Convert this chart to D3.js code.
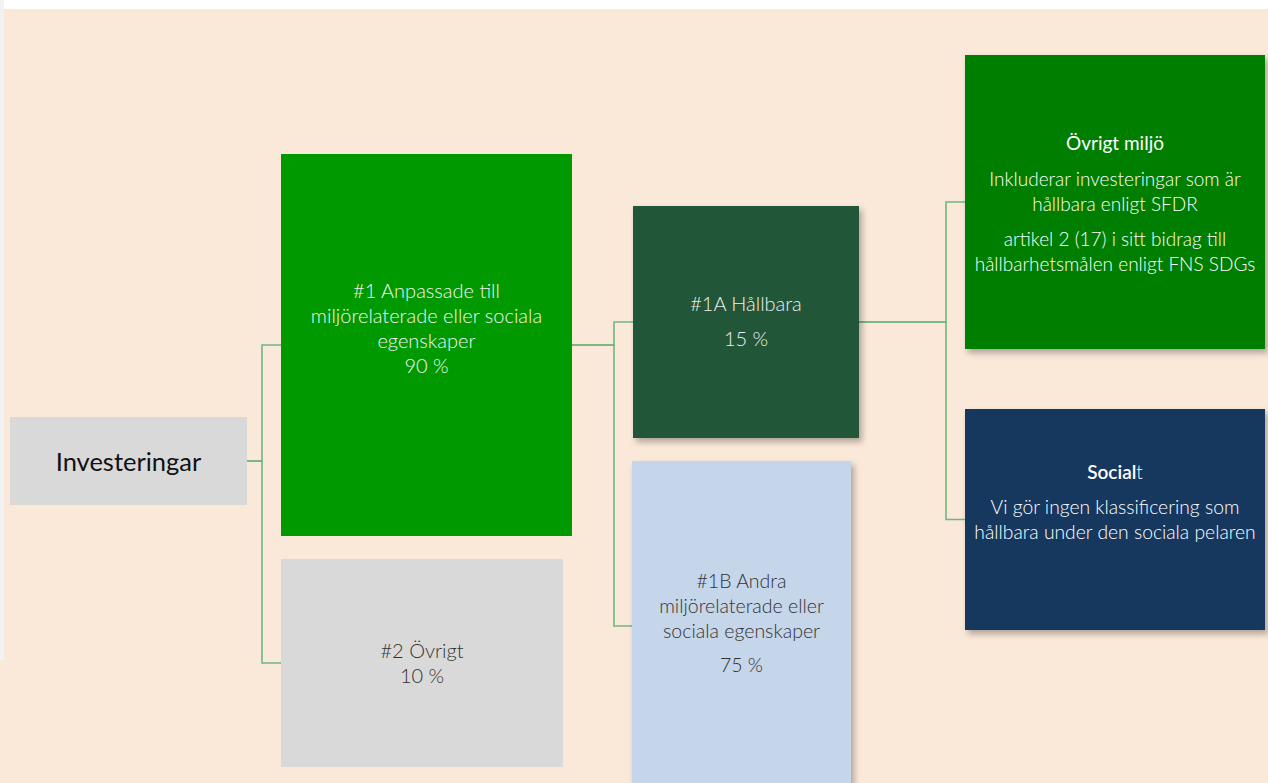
<!DOCTYPE html>
<html><head><meta charset="utf-8">
<script src="https://cdn.jsdelivr.net/npm/d3@7"></script>
<style>
html,body{margin:0;padding:0;background:#fff;}
svg{display:block;}
text{font-family:Lato,"Open Sans",sans-serif;}
</style></head>
<body><svg id="c" width="1268" height="783"></svg>
<script>
// ---- data ----
const nodeIds = ["inv","n1","n2","n1A","n1B","env","soc"];
const parents = [null,"inv","inv","n1","n1","n1A","n1A"];
const titles = [
  ["Investeringar"],
  ["#1 Anpassade till","miljörelaterade eller sociala","egenskaper"],
  ["#2 Övrigt"],
  ["#1A Hållbara"],
  ["#1B Andra","miljörelaterade eller","sociala egenskaper"],
  ["Övrigt miljö"],
  ["Socialt"]
];
const shares = [null, 90, 10, 15, 75, null, null];
const descriptions = [
  [],[],[],[],[],
  [["Inkluderar investeringar som är","hållbara enligt SFDR"],["artikel 2 (17) i sitt bidrag till","hållbarhetsmålen enligt FNS SDGs"]],
  [["Vi gör ingen klassificering som","hållbara under den sociala pelaren"]]
];

// ---- layout (positions / styles) ----
const layout = {
  inv: {x:10, y:417, w:237, h:88, fill:"#d9d9d9", color:"#111", size:25.5, tsize:25.5, weight:400, ty:[471], shadow:false},
  n1:  {x:281, y:154, w:291, h:382, fill:"#009900", color:"#f4f4f4", size:20, tsize:20, weight:300, ty:[298,323,348,373], shadow:false},
  n2:  {x:281, y:559, w:282, h:208, fill:"#d9d9d9", color:"#333", size:20, tsize:20, weight:300, ty:[658,683], shadow:false},
  n1A: {x:633, y:206, w:226, h:232, fill:"#245739", color:"#eee", size:20, tsize:20, weight:300, ty:[311,346], shadow:true},
  n1B: {x:632, y:461, w:219, h:330, fill:"#c5d5ea", color:"#333", size:19.5, tsize:19.5, weight:300, ty:[588,613,638,672], shadow:true},
  env: {x:965, y:55, w:300, h:294, fill:"#007e00", color:"#fff", size:19, tsize:19, weight:300, ty:[150,186,211,246,271], shadow:true},
  soc: {x:965, y:409, w:300, h:221, fill:"#17375e", color:"#fff", size:19.3, tsize:19, weight:300, ty:[479,514,539], shadow:true}
};
const elbowX = {inv:262, n1:614, n1A:946};

const svg = d3.select("#c");
const W = 1268, H = 783;
// background
svg.append("rect").attr("x",0).attr("y",0).attr("width",W).attr("height",H).attr("fill","#fae8d8");
svg.append("rect").attr("x",0).attr("y",0).attr("width",W).attr("height",9).attr("fill","#ffffff");
svg.append("rect").attr("x",0).attr("y",0).attr("width",4).attr("height",660).attr("fill","#f2f2f2");

const defs = svg.append("defs");
const f = defs.append("filter").attr("id","sh").attr("x","-10%").attr("y","-10%").attr("width","130%").attr("height","130%");
f.append("feDropShadow").attr("dx",3).attr("dy",4).attr("stdDeviation",3).attr("flood-color","#000").attr("flood-opacity",0.3);

const table = nodeIds.map((id,i)=>({id, parent:parents[i], title:titles[i], share:shares[i], desc:descriptions[i]}));
const root = d3.stratify().id(d=>d.id).parentId(d=>d.parent)(table);

// links
const linkGen = l => {
  const s = layout[l.source.id], t = layout[l.target.id];
  const sx = s.x + s.w, sy = s.y + s.h/2;
  const tx = t.x, ty = t.y + t.h/2;
  const ex = elbowX[l.source.id];
  const p = d3.path();
  p.moveTo(sx, sy); p.lineTo(ex, sy); p.lineTo(ex, ty); p.lineTo(tx, ty);
  return p.toString();
};
svg.append("g").selectAll("path").data(root.links()).join("path")
  .attr("d", linkGen).attr("fill","none").attr("stroke","#6fb77c").attr("stroke-width",1.6);

// nodes
const nodes = svg.append("g").selectAll("g").data(root.descendants()).join("g");
nodes.append("rect")
  .attr("x", d=>layout[d.id].x).attr("y", d=>layout[d.id].y)
  .attr("width", d=>layout[d.id].w).attr("height", d=>layout[d.id].h)
  .attr("fill", d=>layout[d.id].fill)
  .attr("filter", d=>layout[d.id].shadow ? "url(#sh)" : null);

nodes.each(function(d){
  const L = layout[d.id];
  const g = d3.select(this);
  const cx = L.x + L.w/2;
  const lines = [];
  d.data.title.forEach(t=>lines.push({t, title:true}));
  if (d.data.share !== null) lines.push({t: d.data.share + " %", title:false});
  d.data.desc.forEach(par=>par.forEach(t=>lines.push({t, title:false, desc:true})));
  lines.forEach((ln,i)=>{
    const tx = g.append("text").attr("x",cx).attr("y",L.ty[i])
      .attr("text-anchor","middle").attr("fill",L.color)
      .attr("font-size", ln.title ? L.tsize : L.size);
    if (d.id==="soc" && ln.title) {
      tx.append("tspan").attr("font-weight",600).text("Social");
      tx.append("tspan").attr("font-weight",300).text("t");
    } else if ((d.id==="env") && ln.title) {
      tx.attr("font-weight",400).text(ln.t);
    } else {
      tx.attr("font-weight", L.weight).text(ln.t);
    }
  });
});
</script></body></html>
